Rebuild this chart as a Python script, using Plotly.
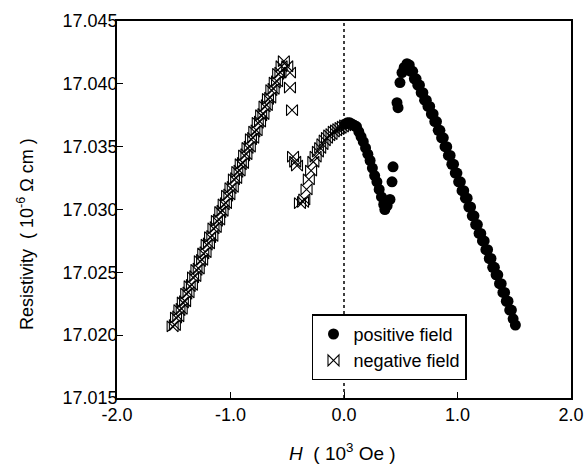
import plotly.graph_objects as go

# ---------------- data (H in 10^3 Oe, resistivity in 10^-6 Ohm cm) ----------------
# negative field: linear branch (two interleaved sweeps)
neg_line_x = [-1.51, -1.48, -1.45, -1.42, -1.39, -1.36, -1.33, -1.30, -1.27, -1.24, -1.21,
              -1.18, -1.15, -1.12, -1.09, -1.06, -1.03, -1.00, -0.97, -0.94, -0.91, -0.88,
              -0.85, -0.82, -0.79, -0.76, -0.73, -0.70, -0.67, -0.64, -0.61, -0.58, -0.55, -0.53]
neg_line_y = [17.0207, 17.0214, 17.0220, 17.0226, 17.0233, 17.0239, 17.0246, 17.0252, 17.0259,
              17.0265, 17.0272, 17.0278, 17.0285, 17.0291, 17.0298, 17.0304, 17.0311, 17.0317,
              17.0324, 17.0330, 17.0336, 17.0343, 17.0349, 17.0356, 17.0362, 17.0369, 17.0375,
              17.0382, 17.0388, 17.0395, 17.0401, 17.0408, 17.0414, 17.0418]
neg_line2_x = [-1.49, -1.46, -1.43, -1.40, -1.37, -1.34, -1.31, -1.28, -1.25, -1.22, -1.19,
               -1.16, -1.13, -1.10, -1.07, -1.04, -1.01, -0.98, -0.95, -0.92, -0.89, -0.86,
               -0.83, -0.80, -0.77, -0.74, -0.71, -0.68, -0.65, -0.62, -0.59, -0.56]
neg_line2_y = [17.0208, 17.0215, 17.0221, 17.0227, 17.0234, 17.0240, 17.0247, 17.0253, 17.0260,
               17.0266, 17.0273, 17.0279, 17.0286, 17.0292, 17.0299, 17.0305, 17.0312, 17.0318,
               17.0325, 17.0331, 17.0337, 17.0344, 17.0350, 17.0357, 17.0363, 17.0370, 17.0376,
               17.0383, 17.0389, 17.0396, 17.0402, 17.0409]
# negative field: jump region
neg_jump_x = [-0.50, -0.476, -0.476, -0.458, -0.449, -0.43, -0.414, -0.388, -0.361]
neg_jump_y = [17.0414, 17.0409, 17.0397, 17.0379, 17.0342, 17.0338, 17.0335, 17.0305, 17.0306]
# negative field: low-field curved branch
neg_curve_x = [-0.35, -0.33, -0.31, -0.29, -0.27, -0.25, -0.23, -0.21, -0.19, -0.17, -0.15,
               -0.13, -0.11, -0.09, -0.07, -0.05, -0.03, -0.01, 0.01, 0.03]
neg_curve_y = [17.0308, 17.0316, 17.0324, 17.0331, 17.0338, 17.0342, 17.0346, 17.0349, 17.0352,
               17.0355, 17.0357, 17.0359, 17.0360, 17.0362, 17.0363, 17.0364, 17.0365, 17.0366,
               17.0367, 17.0367]

# positive field: low-field curved branch
pos_curve_x = [0.01, 0.03, 0.05, 0.07, 0.09, 0.11, 0.13, 0.15, 0.17, 0.19, 0.21, 0.23, 0.25,
               0.27, 0.29, 0.31, 0.33, 0.35, 0.36]
pos_curve_y = [17.0368, 17.0369, 17.0369, 17.0368, 17.0367, 17.0366, 17.0362, 17.0358, 17.0354,
               17.0349, 17.0344, 17.0339, 17.0333, 17.0327, 17.0322, 17.0316, 17.0310, 17.0304,
               17.0300]
# positive field: jump region
pos_jump_x = [0.38, 0.405, 0.423, 0.432, 0.467, 0.476, 0.493, 0.511, 0.53]
pos_jump_y = [17.0303, 17.0308, 17.0322, 17.0334, 17.0385, 17.0381, 17.0401, 17.0409, 17.0413]
# positive field: linear branch (two interleaved sweeps)
pos_line_x = [0.555, 0.59, 0.62, 0.65, 0.68, 0.71, 0.74, 0.77, 0.80, 0.83, 0.86, 0.89, 0.92,
              0.95, 0.98, 1.01, 1.04, 1.07, 1.10, 1.13, 1.16, 1.19, 1.22, 1.25, 1.28, 1.31,
              1.34, 1.37, 1.40, 1.43, 1.46, 1.49, 1.51]
pos_line_y = [17.0416, 17.0410, 17.0404, 17.0399, 17.0393, 17.0387, 17.0382, 17.0376, 17.0370,
              17.0363, 17.0357, 17.0350, 17.0343, 17.0336, 17.0329, 17.0322, 17.0315, 17.0309,
              17.0302, 17.0295, 17.0288, 17.0281, 17.0275, 17.0268, 17.0261, 17.0254, 17.0248,
              17.0241, 17.0234, 17.0227, 17.0220, 17.0213, 17.0208]
pos_line2_x = [0.575, 0.605, 0.635, 0.665, 0.695, 0.725, 0.755, 0.785, 0.815, 0.845, 0.875,
               0.905, 0.935, 0.965, 0.995, 1.025, 1.055, 1.085, 1.115, 1.145, 1.175, 1.205,
               1.235, 1.265, 1.295, 1.325, 1.355, 1.385, 1.415, 1.445, 1.475]
pos_line2_y = [17.0415, 17.0410, 17.0404, 17.0399, 17.0393, 17.0387, 17.0382, 17.0376, 17.0370,
               17.0363, 17.0357, 17.0350, 17.0343, 17.0336, 17.0329, 17.0322, 17.0315, 17.0309,
               17.0302, 17.0295, 17.0288, 17.0281, 17.0275, 17.0268, 17.0261, 17.0254, 17.0248,
               17.0241, 17.0234, 17.0227, 17.0220]

x_ticks = [-2.0, -1.0, 0.0, 1.0, 2.0]
y_ticks = [17.015, 17.020, 17.025, 17.030, 17.035, 17.040, 17.045]

# ---------------- figure ----------------
FONT = "Liberation Sans, Arial, Helvetica, sans-serif"

neg_x = neg_line_x + neg_line2_x + neg_jump_x + neg_curve_x
neg_y = neg_line_y + neg_line2_y + neg_jump_y + neg_curve_y
pos_x = pos_curve_x + pos_jump_x + pos_line_x + pos_line2_x
pos_y = pos_curve_y + pos_jump_y + pos_line_y + pos_line2_y

fig = go.Figure()
fig.add_trace(go.Scatter(
    x=pos_x, y=pos_y, mode="markers", name="positive field",
    marker=dict(symbol="circle", size=11, color="black", line=dict(width=0)),
))
fig.add_trace(go.Scatter(
    x=neg_x, y=neg_y, mode="markers", name="negative field",
    marker=dict(symbol="bowtie-open", size=11, color="black", line=dict(width=1.1, color="black")),
))

fig.add_shape(type="line", xref="x", yref="paper", x0=0, x1=0, y0=0, y1=1,
              line=dict(color="black", width=1.5, dash="dot"), layer="below")

axis_common = dict(
    showline=True, mirror=True, linecolor="black", linewidth=1.5,
    ticks="inside", ticklen=6, tickwidth=1.2, tickcolor="black",
    showgrid=False, zeroline=False, automargin=False,
    tickfont=dict(family=FONT, size=18, color="black"),
)

fig.update_xaxes(range=[-2.0, 2.0], tickvals=x_ticks,
                 ticktext=[f"{v:.1f}" for v in x_ticks], **axis_common)
fig.update_yaxes(range=[17.015, 17.045], tickvals=y_ticks,
                 ticktext=[f"{v:.3f}" for v in y_ticks], ticklabelstandoff=-6, **axis_common)

fig.add_annotation(text="Resistivity\u00a0\u00a0(\u00a010<sup>-6</sup>\u00a0\u03a9\u00a0cm\u00a0)",
                   xref="paper", yref="paper", x=-0.2026, y=0.435, textangle=-90,
                   showarrow=False, font=dict(family=FONT, size=18, color="black"),
                   xanchor="center", yanchor="middle")
fig.add_annotation(text="<i>H</i>\u00a0\u00a0(\u00a010<sup>3</sup>\u00a0Oe\u00a0)",
                   xref="paper", yref="paper", x=0.4956, y=-0.142,
                   showarrow=False, font=dict(family=FONT, size=19, color="black"),
                   xanchor="center", yanchor="middle")

fig.update_layout(
    width=584, height=466,
    margin=dict(l=117, r=13, t=21, b=68, autoexpand=False),
    paper_bgcolor="white", plot_bgcolor="white",
    showlegend=True,
    legend=dict(x=0.4295, y=0.222, xanchor="left", yanchor="top",
                bgcolor="white", bordercolor="black", borderwidth=1.5,
                font=dict(family=FONT, size=18, color="black"),
                tracegroupgap=0, itemwidth=30),
)

fig.write_html("out.html", config={"displayModeBar": False},
               post_script="document.body.style.margin='0';document.body.style.padding='0';")
